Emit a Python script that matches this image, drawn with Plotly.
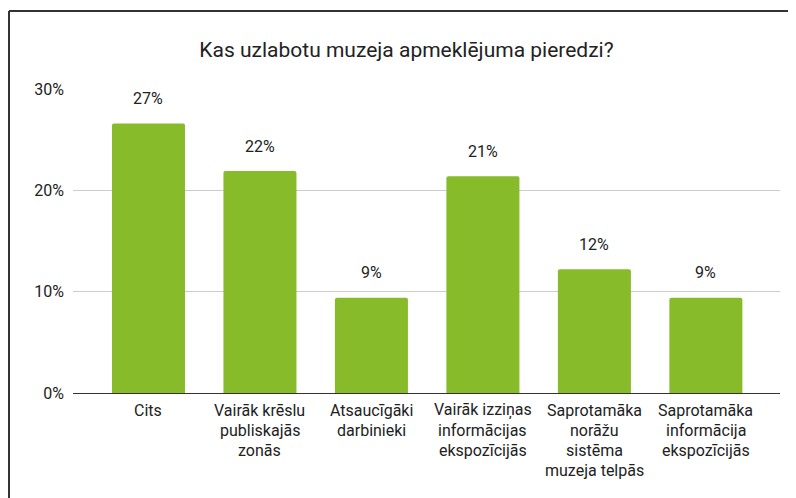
import plotly.graph_objects as go

categories = ["Cits", "Vairāk krēslu<br>publiskajās<br>zonās", "Atsaucīgāki<br>darbinieki",
              "Vairāk izziņas<br>informācijas<br>ekspozīcijās", "Saprotamāka<br>norāžu<br>sistēma<br>muzeja telpās",
              "Saprotamāka<br>informācija<br>ekspozīcijās"]
values = [26.6, 21.9, 9.4, 21.4, 12.2, 9.4]
value_labels = ["27%", "22%", "9%", "21%", "12%", "9%"]
y_ticks = [0, 10, 20, 30]
y_tick_labels = ["0%", "10%", "20%", "30%"]
title = "Kas uzlabotu muzeja apmeklējuma pieredzi?"

FONT = "Roboto"
TXT = "#222222"
x_idx = list(range(len(categories)))

W, H = 788, 490
L, R, T, B = 65, 16, 81, 105
PW, PH = W - L - R, H - T - B

fig = go.Figure()
fig.add_trace(go.Bar(x=x_idx, y=values, marker_color="#87bb2a", marker_line_width=0,
                     width=0.655, hoverinfo="skip"))

annotations = []
for i, (v, lab) in enumerate(zip(values, value_labels)):
    annotations.append(dict(x=i, y=v, xref="x", yref="y", text=lab, showarrow=False,
                            yanchor="middle", yshift=25, font=dict(family=FONT, size=16, color=TXT)))
for i, cat in enumerate(categories):
    for j, line in enumerate(cat.split("<br>")):
        annotations.append(dict(x=i, y=0, xref="x", yref="y", text=line, showarrow=False,
                                yanchor="middle", yshift=-(17 + 20 * j),
                                font=dict(family=FONT, size=16, color=TXT)))

fig.update_layout(
    width=W, height=H,
    paper_bgcolor="white", plot_bgcolor="white",
    margin=dict(l=L, r=R, t=T, b=B),
    showlegend=False,
    barcornerradius=2,
    title=dict(text=title, x=398.5 / W, xanchor="center", y=1 - 42 / H, yanchor="middle",
               font=dict(family=FONT, size=21, color=TXT)),
    xaxis=dict(range=[-0.677, 5.665], showticklabels=False, showgrid=False, zeroline=False,
               showline=False, fixedrange=True),
    yaxis=dict(range=[0, 30], tickvals=y_ticks, ticktext=y_tick_labels, showgrid=True,
               gridcolor="#cccccc", gridwidth=1, zeroline=True, zerolinecolor="#333333",
               zerolinewidth=1, showline=False, ticks="", ticklabelstandoff=8,
               tickfont=dict(family=FONT, size=16, color=TXT), fixedrange=True),
    annotations=annotations,
    shapes=[
        dict(type="line", xref="paper", yref="paper", x0=-(L - 1) / PW, x1=1 + R / PW,
             y0=1 + (T - 3) / PH, y1=1 + (T - 3) / PH, line=dict(color="#333333", width=2)),
        dict(type="line", xref="paper", yref="paper", x0=-(L - 1) / PW, x1=-(L - 1) / PW,
             y0=1 + (T - 3) / PH, y1=-B / PH, line=dict(color="#333333", width=2)),
    ],
)
fig.write_html("out.html")
